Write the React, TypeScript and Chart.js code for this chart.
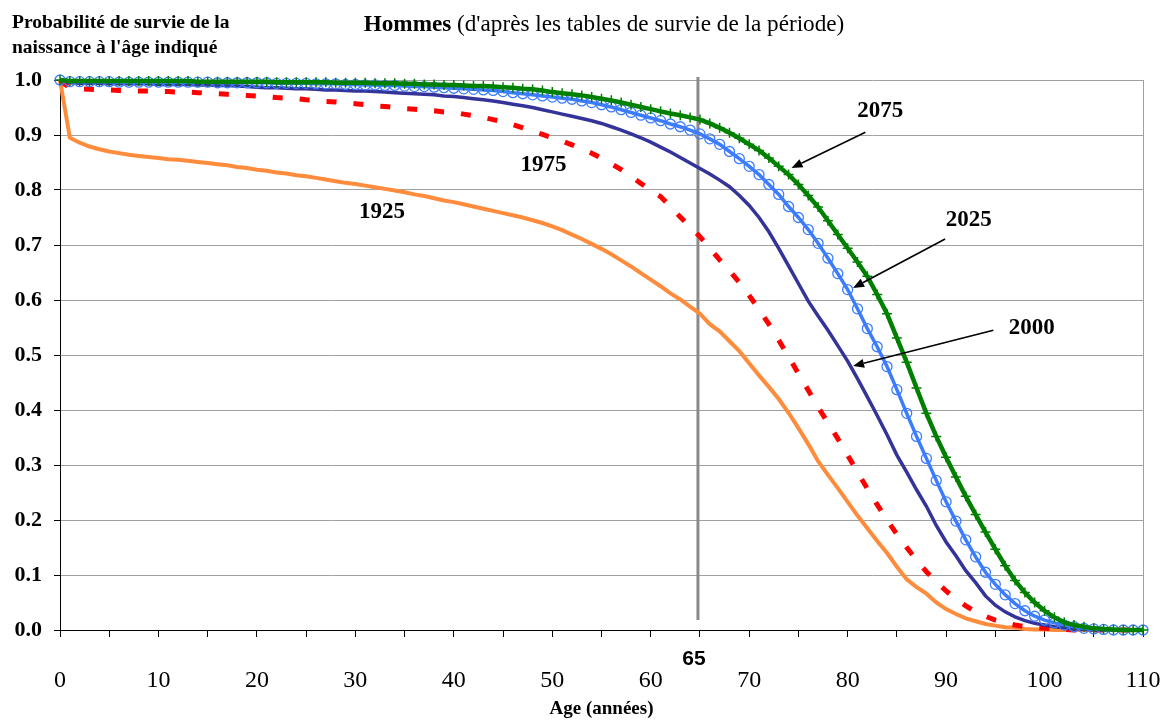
import React, { useEffect, useRef } from 'react';
import { Chart, registerables } from 'chart.js';

Chart.register(...registerables);

// Ages 0..110 (x categories)
const AGES: number[] = Array.from({ length: 111 }, (_, i) => i);

const S1925 = [
  1.000, 0.895, 0.886, 0.879, 0.874, 0.870, 0.867, 0.864, 0.862, 0.860,
  0.858, 0.856, 0.855, 0.853, 0.851, 0.849, 0.847, 0.845, 0.842, 0.840,
  0.837, 0.835, 0.832, 0.830, 0.827, 0.825, 0.822, 0.819, 0.816, 0.813,
  0.811, 0.808, 0.805, 0.802, 0.799, 0.796, 0.792, 0.789, 0.785, 0.781,
  0.778, 0.774, 0.770, 0.766, 0.762, 0.758, 0.754, 0.750, 0.745, 0.740,
  0.734, 0.727, 0.719, 0.711, 0.702, 0.693, 0.683, 0.672, 0.661, 0.649,
  0.637, 0.625, 0.612, 0.601, 0.588, 0.575, 0.556, 0.543, 0.525, 0.507,
  0.485, 0.463, 0.442, 0.420, 0.395, 0.367, 0.338, 0.307, 0.282, 0.258,
  0.233, 0.208, 0.185, 0.162, 0.140, 0.115, 0.092, 0.078, 0.066, 0.050,
  0.038, 0.029, 0.021, 0.016, 0.011, 0.008, 0.005, 0.004, 0.002, 0.001,
  0.001, 0, 0, 0, 0, 0, 0, 0, 0, 0, 0,
];

const S1975 = [
  1.000, 0.985, 0.984, 0.983, 0.982, 0.982, 0.981, 0.981, 0.980, 0.980,
  0.979, 0.979, 0.978, 0.978, 0.977, 0.976, 0.975, 0.974, 0.973, 0.972,
  0.971, 0.970, 0.968, 0.967, 0.966, 0.964, 0.963, 0.961, 0.960, 0.958,
  0.957, 0.955, 0.953, 0.952, 0.950, 0.948, 0.947, 0.945, 0.944, 0.942,
  0.941, 0.938, 0.935, 0.932, 0.928, 0.924, 0.919, 0.913, 0.907, 0.901,
  0.895, 0.889, 0.882, 0.875, 0.867, 0.858, 0.848, 0.837, 0.825, 0.812,
  0.800, 0.788, 0.770, 0.751, 0.733, 0.715, 0.694, 0.673, 0.653, 0.632,
  0.608, 0.583, 0.556, 0.527, 0.497, 0.466, 0.436, 0.405, 0.377, 0.348,
  0.318, 0.287, 0.257, 0.228, 0.200, 0.174, 0.150, 0.127, 0.106, 0.088,
  0.071, 0.056, 0.044, 0.033, 0.025, 0.018, 0.013, 0.009, 0.006, 0.004,
  0.003, 0.002, 0.001, 0, 0, 0, 0, 0, 0, 0, 0,
];

const S2000 = [
  1.000, 0.995, 0.994, 0.994, 0.994, 0.993, 0.993, 0.993, 0.993, 0.993,
  0.992, 0.992, 0.992, 0.992, 0.991, 0.991, 0.990, 0.990, 0.989, 0.988,
  0.987, 0.986, 0.986, 0.985, 0.984, 0.984, 0.983, 0.982, 0.982, 0.981,
  0.980, 0.980, 0.979, 0.978, 0.977, 0.976, 0.975, 0.974, 0.973, 0.971,
  0.970, 0.968, 0.966, 0.964, 0.962, 0.959, 0.956, 0.953, 0.950, 0.946,
  0.942, 0.938, 0.934, 0.930, 0.926, 0.921, 0.915, 0.909, 0.902, 0.895,
  0.887, 0.878, 0.869, 0.859, 0.849, 0.839, 0.829, 0.818, 0.806, 0.790,
  0.772, 0.750, 0.724, 0.694, 0.662, 0.630, 0.598, 0.571, 0.545, 0.517,
  0.489, 0.457, 0.424, 0.390, 0.355, 0.318, 0.287, 0.255, 0.225, 0.190,
  0.160, 0.135, 0.108, 0.086, 0.062, 0.045, 0.033, 0.024, 0.017, 0.012,
  0.009, 0.006, 0.004, 0.002, 0.001, 0, 0, 0, 0, 0, 0,
];

const S2025 = [
  1.000, 0.997, 0.997, 0.997, 0.997, 0.997, 0.996, 0.996, 0.996, 0.996,
  0.996, 0.996, 0.996, 0.996, 0.996, 0.996, 0.995, 0.995, 0.995, 0.995,
  0.995, 0.995, 0.994, 0.994, 0.994, 0.994, 0.993, 0.993, 0.993, 0.992,
  0.992, 0.991, 0.991, 0.990, 0.990, 0.989, 0.988, 0.988, 0.987, 0.986,
  0.985, 0.984, 0.983, 0.982, 0.981, 0.979, 0.977, 0.975, 0.973, 0.971,
  0.969, 0.967, 0.965, 0.962, 0.959, 0.955, 0.951, 0.946, 0.941, 0.936,
  0.931, 0.926, 0.920, 0.915, 0.909, 0.902, 0.893, 0.883, 0.870, 0.857,
  0.843, 0.828, 0.810, 0.792, 0.770, 0.750, 0.728, 0.703, 0.676, 0.648,
  0.619, 0.584, 0.548, 0.515, 0.479, 0.437, 0.394, 0.352, 0.312, 0.272,
  0.233, 0.198, 0.164, 0.133, 0.105, 0.083, 0.064, 0.048, 0.035, 0.025,
  0.018, 0.013, 0.009, 0.006, 0.003, 0.002, 0.001, 0, 0, 0, 0,
];

const S2075 = [
  1.000, 0.998, 0.998, 0.998, 0.998, 0.998, 0.998, 0.998, 0.998, 0.998,
  0.998, 0.998, 0.998, 0.998, 0.997, 0.997, 0.997, 0.997, 0.997, 0.997,
  0.997, 0.997, 0.996, 0.996, 0.996, 0.996, 0.996, 0.996, 0.995, 0.995,
  0.995, 0.995, 0.994, 0.994, 0.994, 0.993, 0.993, 0.992, 0.992, 0.991,
  0.991, 0.990, 0.989, 0.989, 0.988, 0.987, 0.986, 0.984, 0.983, 0.981,
  0.978, 0.976, 0.974, 0.972, 0.969, 0.966, 0.963, 0.959, 0.955, 0.951,
  0.947, 0.943, 0.939, 0.936, 0.932, 0.928, 0.921, 0.913, 0.904, 0.894,
  0.883, 0.872, 0.858, 0.843, 0.828, 0.810, 0.790, 0.769, 0.744, 0.719,
  0.694, 0.669, 0.643, 0.610, 0.575, 0.531, 0.487, 0.440, 0.394, 0.352,
  0.314, 0.278, 0.243, 0.210, 0.178, 0.147, 0.117, 0.090, 0.068, 0.050,
  0.035, 0.023, 0.014, 0.009, 0.006, 0.003, 0.002, 0.001, 0, 0, 0,
];

const SERIES_NAMES = ['2075', '2025', '2000', '1975', '1925'];
const Y_TICK_STEP = 0.1;
const X_TICK_STEP = 5;
const X_LABEL_STEP = 10;
const MARK_AGE = 65;

const TITLE_BOLD = 'Hommes';
const TITLE_REST = " (d'après les tables de survie de la période)";
const Y_TITLE = ['Probabilité de survie de la', "naissance à l'âge indiqué"];
const X_TITLE = 'Age (années)';

type Note = { text: string; x: number; y: number; from?: [number, number]; to?: [number, number] };
const NOTES: Note[] = [
  { text: '2075', x: 83.3, y: 0.944, from: [81.8, 0.905], to: [74.3, 0.84] },
  { text: '2025', x: 92.3, y: 0.745, from: [89.9, 0.711], to: [80.55, 0.622] },
  { text: '2000', x: 98.7, y: 0.549, from: [94.8, 0.545], to: [80.55, 0.48] },
  { text: '1975', x: 49.1, y: 0.845 },
  { text: '1925', x: 32.7, y: 0.76 },
];

const SERIF = '"Liberation Serif", "Times New Roman", serif';
const SANS = '"Liberation Sans", Arial, sans-serif';

const pts = (vals: number[]) => AGES.map((a, i) => ({ x: a, y: vals[i] }));

const decorPlugin = {
  id: 'decor',
  beforeDatasetsDraw(chart: any) {
    const { ctx, chartArea, scales } = chart;
    ctx.save();
    ctx.strokeStyle = '#a0a0a0';
    ctx.lineWidth = 1;
    ctx.beginPath();
    ctx.moveTo(chartArea.right + 0.5, chartArea.top);
    ctx.lineTo(chartArea.right + 0.5, chartArea.bottom);
    ctx.stroke();
    const px = scales.x.getPixelForValue(MARK_AGE) - 2;
    ctx.strokeStyle = '#8a8a8a';
    ctx.lineWidth = 3;
    ctx.beginPath();
    ctx.moveTo(px, chartArea.top - 3);
    ctx.lineTo(px, chartArea.bottom - 10);
    ctx.stroke();
    ctx.restore();
  },
  afterDraw(chart: any) {
    const { ctx, chartArea, scales } = chart;
    const xs = scales.x;
    const ys = scales.y;
    ctx.save();
    ctx.fillStyle = '#000';
    ctx.strokeStyle = '#000';
    // annotations
    ctx.font = `bold 23px ${SERIF}`;
    ctx.textAlign = 'center';
    ctx.textBaseline = 'middle';
    for (const n of NOTES) {
      ctx.fillText(n.text, xs.getPixelForValue(n.x), ys.getPixelForValue(n.y));
      if (n.from && n.to) {
        const fx = xs.getPixelForValue(n.from[0]);
        const fy = ys.getPixelForValue(n.from[1]);
        const tx = xs.getPixelForValue(n.to[0]);
        const ty = ys.getPixelForValue(n.to[1]);
        const ang = Math.atan2(ty - fy, tx - fx);
        const hl = 11;
        const hw = 4.5;
        const bx = tx - hl * Math.cos(ang);
        const by = ty - hl * Math.sin(ang);
        ctx.lineWidth = 1.6;
        ctx.beginPath();
        ctx.moveTo(fx, fy);
        ctx.lineTo(bx, by);
        ctx.stroke();
        ctx.beginPath();
        ctx.moveTo(tx, ty);
        ctx.lineTo(bx - hw * Math.sin(ang), by + hw * Math.cos(ang));
        ctx.lineTo(bx + hw * Math.sin(ang), by - hw * Math.cos(ang));
        ctx.closePath();
        ctx.fill();
      }
    }
    // title
    ctx.textBaseline = 'alphabetic';
    ctx.textAlign = 'left';
    ctx.font = `bold 23.2px ${SERIF}`;
    const wb = ctx.measureText(TITLE_BOLD).width;
    ctx.font = `23.2px ${SERIF}`;
    const wr = ctx.measureText(TITLE_REST).width;
    const tx0 = 604 - (wb + wr) / 2;
    ctx.font = `bold 23.2px ${SERIF}`;
    ctx.fillText(TITLE_BOLD, tx0, 31);
    ctx.font = `23.2px ${SERIF}`;
    ctx.fillText(TITLE_REST, tx0 + wb, 31);
    // y title
    ctx.font = `bold 19.5px ${SERIF}`;
    ctx.fillText(Y_TITLE[0], 12, 28);
    ctx.fillText(Y_TITLE[1], 12, 53);
    // x title
    ctx.font = `bold 19px ${SERIF}`;
    ctx.textAlign = 'center';
    ctx.fillText(X_TITLE, (chartArea.left + chartArea.right) / 2, 714);
    // 65 label
    ctx.font = `bold 21px ${SANS}`;
    ctx.fillText(String(MARK_AGE), xs.getPixelForValue(MARK_AGE) - 6, 665);
    ctx.restore();
  },
};

export default function App() {
  const ref = useRef<HTMLCanvasElement>(null);
  useEffect(() => {
    if (!ref.current) return;
    const chart = new Chart(ref.current, {
      type: 'line',
      data: {
        datasets: [
          {
            label: SERIES_NAMES[0],
            data: pts(S2075),
            borderColor: '#008000',
            backgroundColor: '#008000',
            borderWidth: 4.5,
            pointStyle: 'cross',
            pointRadius: 5,
            pointBorderWidth: 1.5,
            pointBorderColor: '#008000',
            clip: false,
          },
          {
            label: SERIES_NAMES[1],
            data: pts(S2025),
            borderColor: '#3c7dff',
            backgroundColor: 'rgba(0,0,0,0)',
            borderWidth: 3.5,
            pointStyle: 'circle',
            pointRadius: 5,
            pointBorderWidth: 1.3,
            pointBorderColor: '#3c7dff',
            pointBackgroundColor: 'rgba(0,0,0,0)',
            clip: false,
          },
          {
            label: SERIES_NAMES[2],
            data: pts(S2000),
            borderColor: '#333399',
            borderWidth: 3.5,
            pointRadius: 0,
            clip: false,
          },
          {
            label: SERIES_NAMES[3],
            data: pts(S1975),
            borderColor: '#ff0000',
            borderWidth: 5,
            borderDash: [10, 17],
            borderCapStyle: 'butt',
            pointRadius: 0,
            clip: false,
          },
          {
            label: SERIES_NAMES[4],
            data: pts(S1925),
            borderColor: '#ff8c3c',
            borderWidth: 4,
            pointRadius: 0,
            clip: false,
          },
        ],
      },
      options: {
        responsive: false,
        animation: false,
        events: [],
        layout: { padding: { top: 80, right: 21, bottom: 0, left: 0 } },
        elements: { line: { tension: 0 } },
        plugins: { legend: { display: false }, tooltip: { enabled: false }, title: { display: false } },
        scales: {
          x: {
            type: 'linear',
            min: 0,
            max: 110,
            afterFit: (s: any) => {
              s.height = 90;
              s.paddingLeft = 0;
              s.paddingRight = 0;
            },
            border: { color: '#000', width: 1 },
            grid: { drawOnChartArea: false, tickLength: 7, color: '#000', tickColor: '#000' },
            ticks: {
              stepSize: X_TICK_STEP,
              autoSkip: false,
              maxRotation: 0,
              padding: 29,
              color: '#000',
              font: { family: SERIF, size: 24 },
              callback: (v: any) => (Number(v) % X_LABEL_STEP === 0 ? String(v) : ''),
            },
          },
          y: {
            min: 0,
            max: 1,
            afterFit: (s: any) => {
              s.width = 60;
            },
            border: { color: '#000', width: 1 },
            grid: { color: '#a0a0a0', lineWidth: 1, tickLength: 6, tickColor: '#000' },
            ticks: {
              stepSize: Y_TICK_STEP,
              padding: 12,
              color: '#000',
              font: { family: SERIF, size: 22, weight: 'bold' },
              callback: (v: any) => Number(v).toFixed(1),
            },
          },
        },
      },
      plugins: [decorPlugin],
    } as any);
    return () => chart.destroy();
  }, []);
  return (
    <div style={{ position: 'absolute', left: 0, top: 0, width: 1164, height: 720 }}>
      <canvas ref={ref} width={1164} height={720} style={{ display: 'block' }} />
    </div>
  );
}
